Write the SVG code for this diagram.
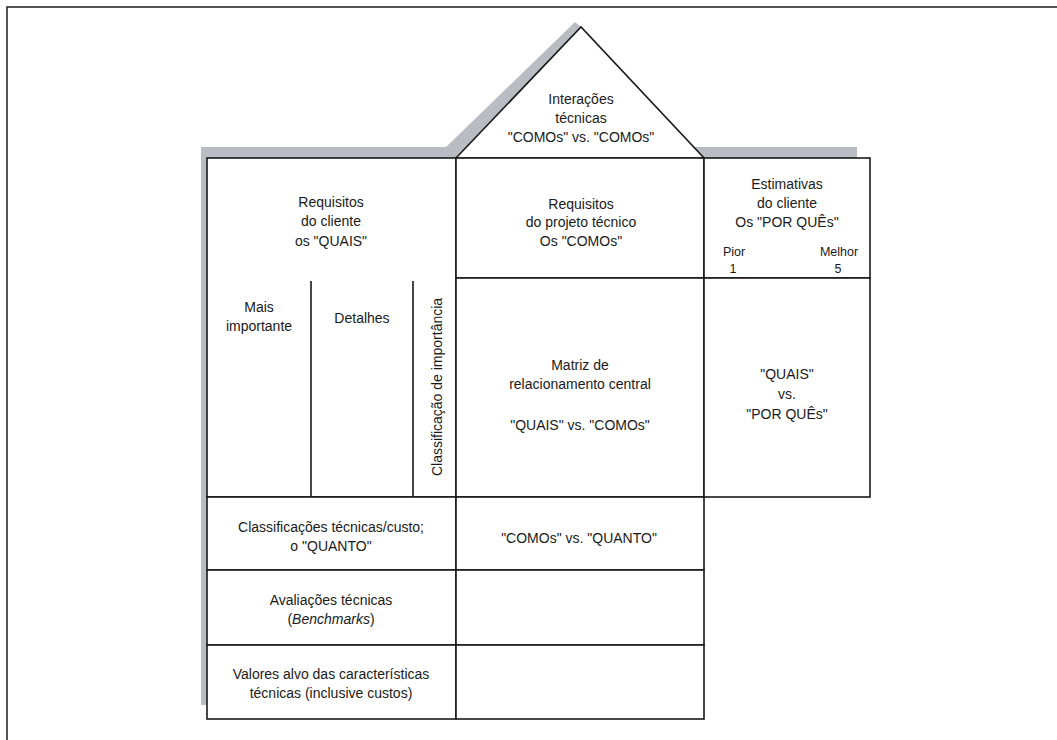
<svg xmlns="http://www.w3.org/2000/svg" width="1057" height="740" viewBox="0 0 1057 740">
<style>
.cell{fill:#fff;stroke:#1a1a1a;stroke-width:1.6}
.div{stroke:#1a1a1a;stroke-width:1.6;fill:none}
text{font-family:"Liberation Sans",Arial,sans-serif;font-size:14px;fill:#1a1a1a;text-anchor:middle}
.sm{font-size:12.5px}
</style>
<rect width="1057" height="740" fill="#fff"/>
<rect x="7" y="7" width="1060" height="745" fill="none" stroke="#2a2a2a" stroke-width="1.6"/>
<g id="shadow">
<polygon points="201,147 446,147 575,22 581,27 694,147 857,147 857,158 207,158 207,705 201,705" fill="#b9bdc3"/>
</g>
<g id="roof">
<polygon class="cell" points="456,158 581,27 704,158"/>
<text x="581" y="104">Interações</text>
<text x="581" y="123">técnicas</text>
<text x="581" y="142">"COMOs" vs. "COMOs"</text>
</g>
<g id="customer-requirements">
<rect class="cell" x="207" y="158" width="249" height="339"/>
<text x="331" y="207">Requisitos</text>
<text x="331" y="226">do cliente</text>
<text x="331" y="246">os "QUAIS"</text>
<line class="div" x1="311" y1="281" x2="311" y2="497"/>
<line class="div" x1="413" y1="281" x2="413" y2="497"/>
<text x="259" y="312">Mais</text>
<text x="259" y="331">importante</text>
<text x="362" y="323">Detalhes</text>
<text transform="translate(442,387) rotate(-90)">Classificação de importância</text>
</g>
<g id="technical-requirements">
<rect class="cell" x="456" y="158" width="248" height="120"/>
<text x="581" y="209">Requisitos</text>
<text x="581" y="227">do projeto técnico</text>
<text x="581" y="246">Os "COMOs"</text>
</g>
<g id="customer-estimates">
<rect class="cell" x="704" y="158" width="166" height="120"/>
<text x="787" y="189">Estimativas</text>
<text x="787" y="208">do cliente</text>
<text x="787" y="227">Os "POR QUÊs"</text>
<text class="sm" x="734" y="256">Pior</text>
<text class="sm" x="733" y="273">1</text>
<text class="sm" x="839" y="256">Melhor</text>
<text class="sm" x="838" y="273">5</text>
</g>
<g id="relationship-matrix">
<rect class="cell" x="456" y="278" width="248" height="219"/>
<text x="580" y="370">Matriz de</text>
<text x="580" y="389">relacionamento central</text>
<text x="580" y="430">"QUAIS" vs. "COMOs"</text>
</g>
<g id="quais-vs-porques">
<rect class="cell" x="704" y="278" width="166" height="219"/>
<text x="787" y="379">"QUAIS"</text>
<text x="787" y="399">vs.</text>
<text x="787" y="419">"POR QUÊs"</text>
</g>
<g id="technical-cost-rankings">
<rect class="cell" x="207" y="497" width="249" height="73"/>
<text x="331" y="532">Classificações técnicas/custo;</text>
<text x="331" y="551">o "QUANTO"</text>
</g>
<g id="comos-vs-quanto">
<rect class="cell" x="456" y="497" width="248" height="73"/>
<text x="579" y="543">"COMOs" vs. "QUANTO"</text>
</g>
<g id="technical-evaluations">
<rect class="cell" x="207" y="570" width="249" height="75"/>
<text x="331" y="605">Avaliações técnicas</text>
<text x="331" y="624">(<tspan font-style="italic">Benchmarks</tspan>)</text>
</g>
<g id="evaluations-cells">
<rect class="cell" x="456" y="570" width="248" height="75"/>
</g>
<g id="target-values">
<rect class="cell" x="207" y="645" width="249" height="74"/>
<text x="331" y="679">Valores alvo das características</text>
<text x="331" y="698">técnicas (inclusive custos)</text>
</g>
<g id="target-values-cells">
<rect class="cell" x="456" y="645" width="248" height="74"/>
</g>
<g id="connectors"/>
</svg>
